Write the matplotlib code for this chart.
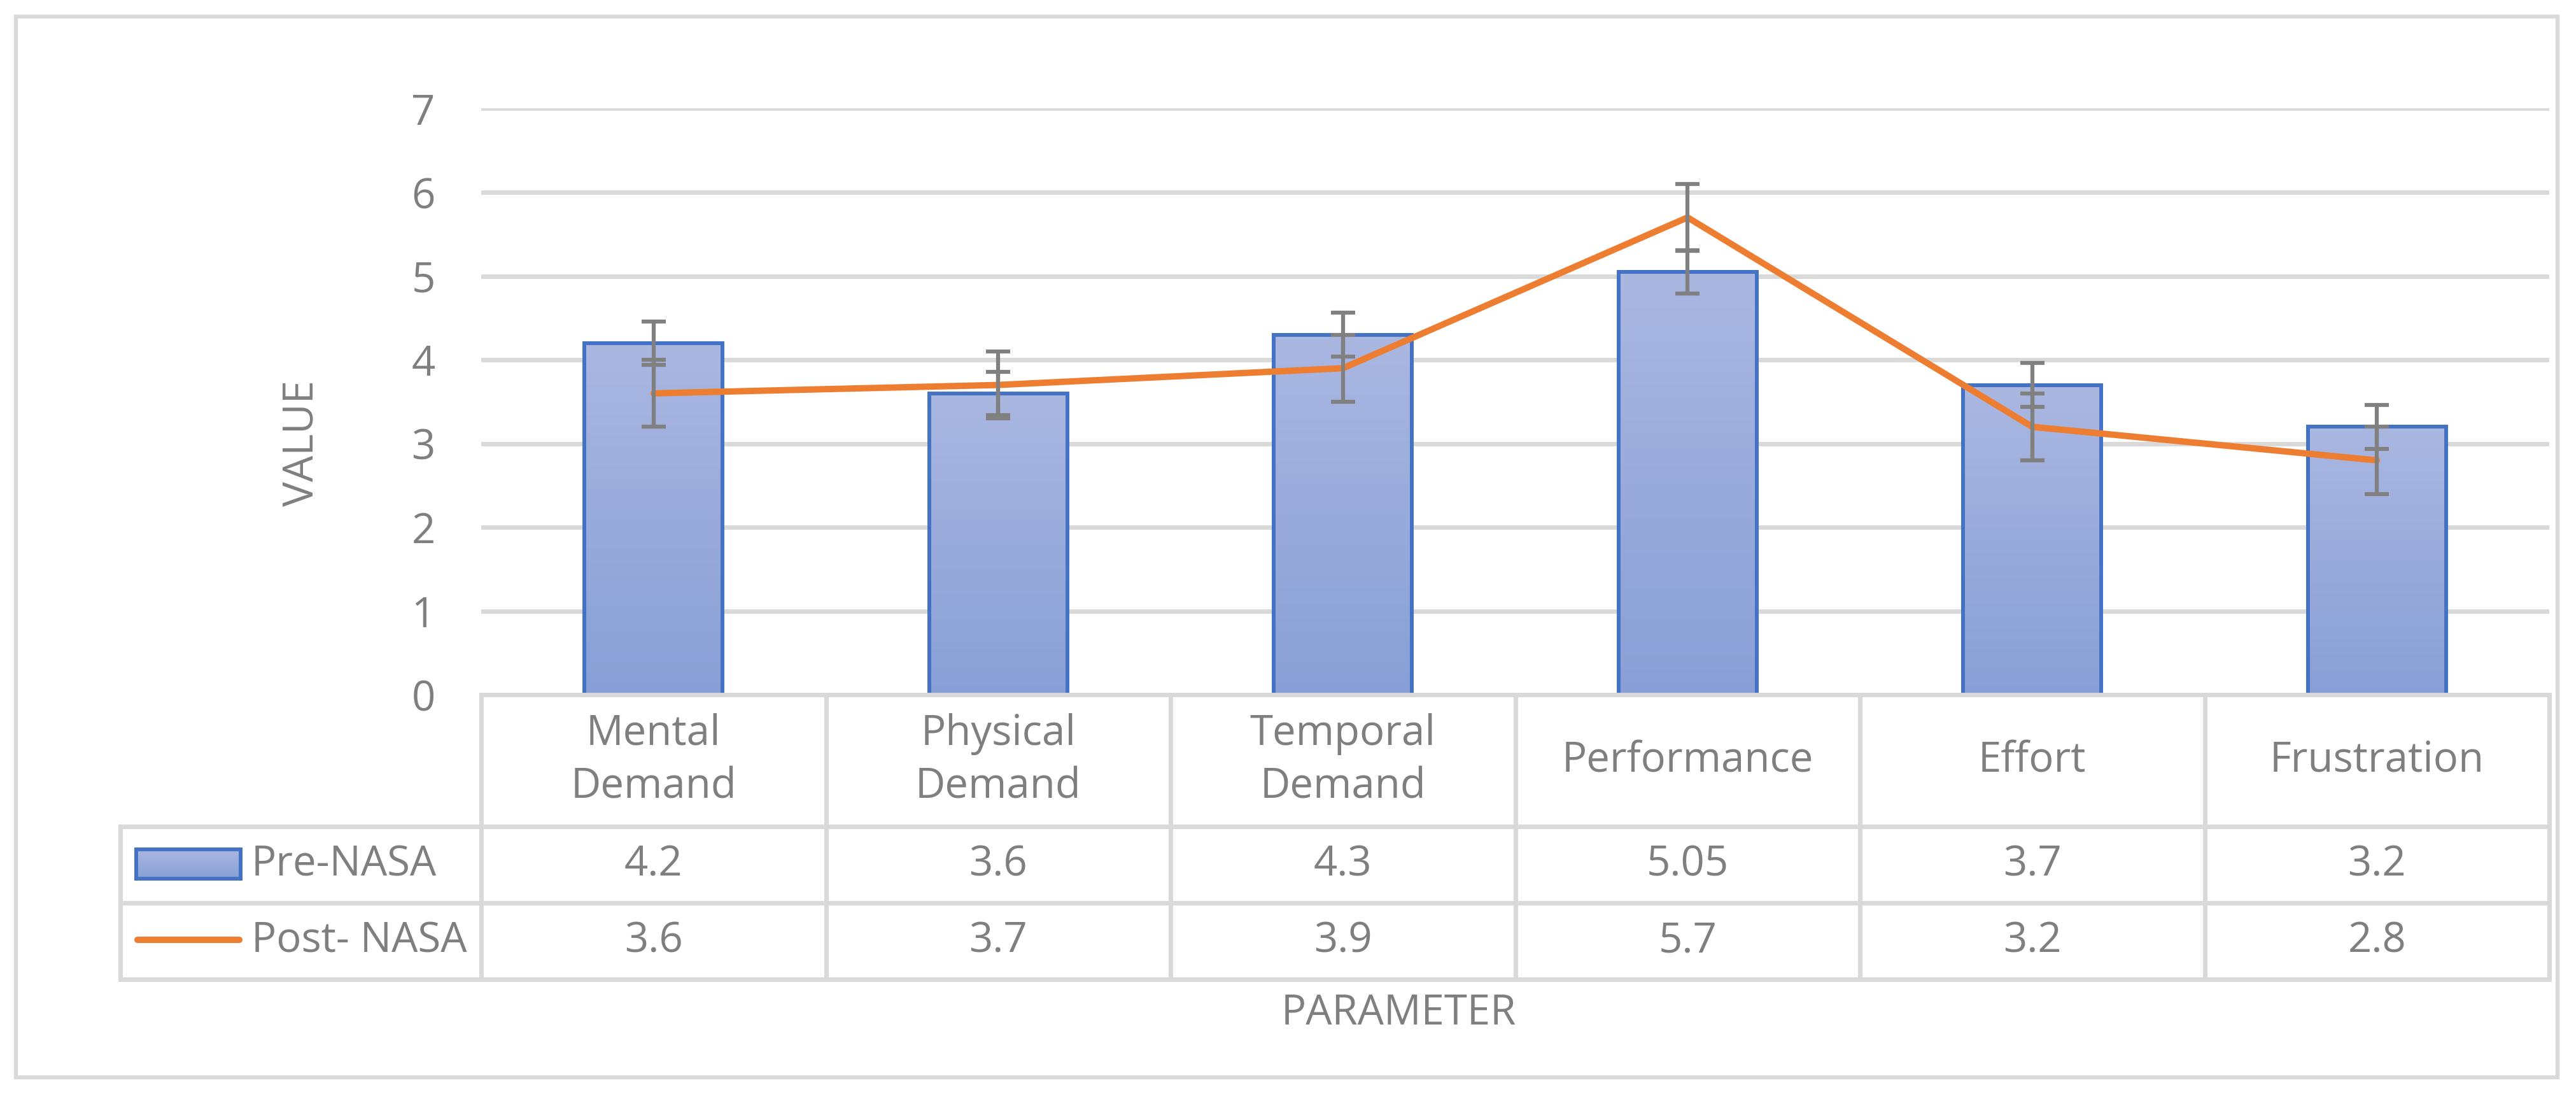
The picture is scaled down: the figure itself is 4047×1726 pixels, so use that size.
import matplotlib
matplotlib.use("Agg")
import matplotlib.pyplot as plt
import numpy as np
from matplotlib.colors import LinearSegmentedColormap
from matplotlib.lines import Line2D
from matplotlib.patches import Rectangle

categories = ["Mental\nDemand", "Physical\nDemand", "Temporal\nDemand",
              "Performance", "Effort", "Frustration"]
pre_nasa = [4.2, 3.6, 4.3, 5.05, 3.7, 3.2]
post_nasa = [3.6, 3.7, 3.9, 5.7, 3.2, 2.8]
pre_err = [0.26, 0.26, 0.26, 0.26, 0.26, 0.26]
post_err = [0.4, 0.4, 0.4, 0.4, 0.4, 0.4]
pre_labels = ["4.2", "3.6", "4.3", "5.05", "3.7", "3.2"]
post_labels = ["3.6", "3.7", "3.9", "5.7", "3.2", "2.8"]
yticks = [0, 1, 2, 3, 4, 5, 6, 7]

W, H = 4047, 1726
TXT = "#7F7F7F"
GRID = "#D9D9D9"
BLUE = "#4472C4"
ORANGE = "#ED7D31"
FS = 47
plt.rcParams["font.family"] = ["Open Sans", "DejaVu Sans"]

grad = LinearSegmentedColormap.from_list("g", ["#889FD6", "#AAB7E1"])


def fx(px):
    return px / W


def fy(py):
    return 1 - py / H


fig = plt.figure(figsize=(W / 100, H / 100), dpi=100)

# plot area in pixels
left, right, top, bottom = 756, 4005, 170.5, 1091.3
ax = fig.add_axes([fx(left), fy(bottom), fx(right - left), (bottom - top) / H])
ax.set_xlim(-0.5, len(categories) - 0.5)
ax.set_ylim(0, 7)
ax.set_yticks(yticks)
ax.set_xticks([])
for s in ax.spines.values():
    s.set_visible(False)
ax.yaxis.grid(True, color=GRID, linewidth=5)
ax.set_axisbelow(True)
ax.tick_params(axis="y", length=0, pad=52, labelsize=FS, labelcolor=TXT)

x = np.arange(len(categories))
bars = ax.bar(x, pre_nasa, width=0.4, facecolor="none", edgecolor=BLUE,
              linewidth=4.3, zorder=3)
gimg = np.linspace(0, 1, 256).reshape(-1, 1)
for b in bars:
    bx, by = b.get_x(), b.get_y()
    im = ax.imshow(gimg, cmap=grad, origin="lower", aspect="auto",
                   extent=(bx, bx + b.get_width(), by, by + b.get_height()),
                   zorder=2)
    im.set_clip_path(b)
ax.set_xlim(-0.5, len(categories) - 0.5)
ax.set_ylim(0, 7)

ax.errorbar(x, pre_nasa, yerr=pre_err, fmt="none", ecolor="#808080",
            elinewidth=4.5, capsize=14, capthick=4.5, zorder=4)
ax.plot(x, post_nasa, color=ORANGE, linewidth=7.2, solid_capstyle="round",
        solid_joinstyle="round", zorder=5)
ax.errorbar(x, post_nasa, yerr=post_err, fmt="none", ecolor="#808080",
            elinewidth=4.5, capsize=14, capthick=4.5, zorder=6)

# data table below the axis
col_w = (right - left) / len(categories)
leg_left = 189
r0, r1, r2, r3 = 1091.3, 1298, 1418, 1538
lw = 5


def hline(y, x0, x1):
    fig.add_artist(Line2D([fx(x0), fx(x1)], [fy(y), fy(y)], color=GRID, lw=lw))


def vline(xp, y0, y1):
    fig.add_artist(Line2D([fx(xp), fx(xp)], [fy(y0), fy(y1)], color=GRID, lw=lw))


hline(r0, left, right)
for yy in (r1, r2, r3):
    hline(yy, leg_left, right)
for k in range(len(categories) + 1):
    vline(left + k * col_w, r0, r3)
vline(leg_left, r1, r3)

for i, cat in enumerate(categories):
    cx = fx(left + (i + 0.5) * col_w)
    fig.text(cx, fy((r0 + r1) / 2), cat, ha="center", va="center",
             fontsize=FS, color=TXT, linespacing=1.35)
    fig.text(cx, fy((r1 + r2) / 2), pre_labels[i], ha="center", va="center",
             fontsize=FS, color=TXT)
    fig.text(cx, fy((r2 + r3) / 2), post_labels[i], ha="center", va="center",
             fontsize=FS, color=TXT)

# legend keys inside table
key = Rectangle((fx(214), fy(1380)), fx(378 - 214), (1380 - 1334) / H,
                transform=fig.transFigure, facecolor="none", edgecolor=BLUE,
                linewidth=4.3, zorder=3)
fig.add_artist(key)
kax = fig.add_axes([fx(214), fy(1380), fx(378 - 214), (1380 - 1334) / H])
kax.imshow(gimg, cmap=grad, origin="lower", aspect="auto")
kax.axis("off")
fig.add_artist(Line2D([fx(216), fx(376)], [fy(1476), fy(1476)], color=ORANGE,
                      lw=7.2, solid_capstyle="round"))
fig.text(fx(395), fy((r1 + r2) / 2), "Pre-NASA", ha="left", va="center",
         fontsize=FS, color=TXT)
fig.text(fx(395), fy((r2 + r3) / 2), "Post- NASA", ha="left", va="center",
         fontsize=FS, color=TXT)

# axis titles
fig.text(fx(474), fy(696), "VALUE", rotation=90, ha="center", va="center",
         fontsize=FS, color=TXT)
fig.text(fx(2197), fy(1592), "PARAMETER", ha="center", va="center",
         fontsize=FS, color=TXT)

# chart border
fig.add_artist(Rectangle((fx(25), fy(1692)), fx(4018 - 25), (1692 - 26) / H,
                         transform=fig.transFigure, fill=False, edgecolor=GRID,
                         linewidth=4.5))

fig.savefig("out.png", dpi=100, facecolor="white")
